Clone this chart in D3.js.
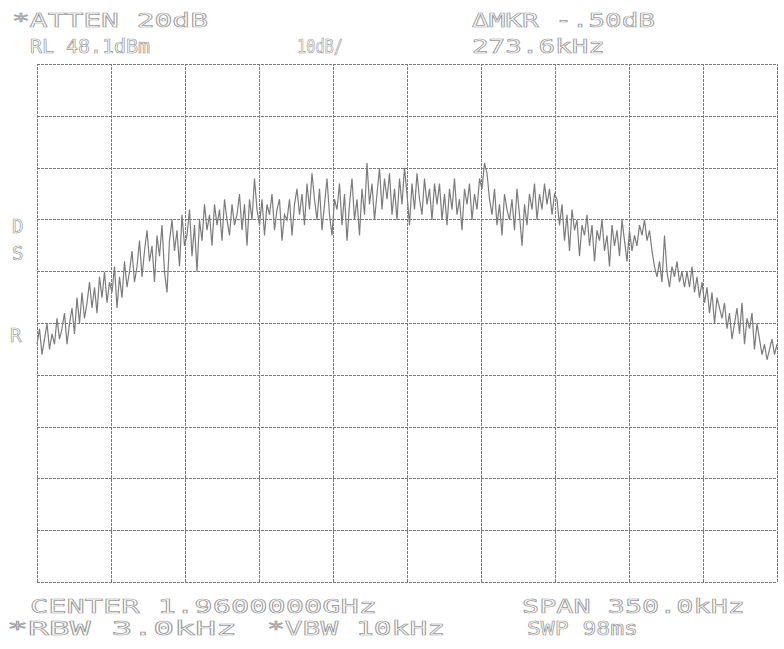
<!DOCTYPE html>
<html>
<head>
<meta charset="utf-8">
<script src="https://cdn.jsdelivr.net/npm/d3@7"></script>
<style>
    body { margin: 0; background: #fff; }
    .grid line { stroke: #7a7a7a; stroke-dasharray: 3,1; shape-rendering: crispEdges; }
    .grid .domain { display: none; }
    .lbl { font-family: "DejaVu Sans Mono", monospace; font-size: 19px; fill: #fff; stroke: #9a9a9a; stroke-width: 0.7; }
</style>
</head>
<body>
<script>
// trace level in dBm, one value per sweep point (left to right)
var levels = [
    -6, -3, -8, -5, -2, -7, -4, -6, -1, -5, -3, 0, -6, -2, 1, -4, 3, -2, 4, -1,
    2, 6, 1, 5, 0, 7, 3, 8, 2, 6, 4, 9, 1, 7, 3, 10, 5, 8, 12, 6,
    9, 14, 7, 12, 16, 10, 13, 6, 15, 11, 17, 8, 4, 14, 18, 12, 16, 9, 19, 13,
    15, 20, 11, 17, 8, 18, 14, 21, 16, 19, 13, 21, 17, 20, 14, 22, 18, 15, 21, 17,
    19, 23, 16, 21, 13, 22, 18, 26, 20, 17, 22, 15, 21, 19, 23, 16, 20, 22, 14, 19,
    18, 22, 15, 21, 24, 19, 23, 17, 25, 20, 27, 22, 18, 24, 16, 21, 26, 19, 15, 22,
    20, 25, 17, 23, 14, 21, 26, 18, 22, 15, 24, 19, 29, 21, 25, 18, 23, 28, 20, 26,
    22, 27, 19, 24, 18, 26, 21, 28, 23, 17, 25, 20, 27, 22, 19, 26, 21, 24, 18, 25,
    21, 25, 18, 23, 17, 24, 20, 26, 19, 22, 16, 24, 21, 25, 18, 23, 20, 26, 24, 29,
    27, 22, 19, 24, 17, 21, 15, 23, 20, 18, 22, 16, 24, 19, 13, 21, 17, 23, 20, 25,
    18, 23, 20, 25, 21, 24, 19, 23, 22, 17, 21, 14, 19, 12, 20, 16, 18, 11, 17, 15,
    19, 13, 17, 10, 16, 14, 18, 12, 15, 9, 17, 13, 16, 11, 18, 14, 10, 16, 12, 15,
    13, 17, 15, 18, 14, 16, 12, 9, 7, 10, 6, 15, 8, 5, 9, 7, 10, 6, 8, 5,
    8, 5, 9, 4, 7, 3, 6, 2, 5, 0, 4, -2, 3, 1, -1, 2, -3, 0, -5, -2,
    1, -4, 2, -6, -1, -3, 0, -7, -2, -5, -8, -6, -9, -7, -5, -8, -6
];

// frequency offset from centre, kHz
var freqTicks = [-175, -140, -105, -70, -35, 0, 35, 70, 105, 140, 175];
var levelTicks = [48.1, 38.1, 28.1, 18.1, 8.1, -1.9, -11.9, -21.9, -31.9, -41.9, -51.9];

var topLabels = ["*ATTEN 20dB", "\u0394MKR -.50dB", "RL 48.1dBm", "10dB/", "273.6kHz"];
var bottomLabels = ["CENTER 1.9600000GHz", "SPAN 350.0kHz", "*RBW 3.0kHz", "*VBW 10kHz", "SWP 98ms"];
var sideLabels = ["D", "S", "R"];

(function () {

    var w = 784;
    var h = 649;
    var left = 37, right = 777, top = 64, bottom = 582;

    var svg = d3.select("body").append("svg")
        .attr("width", w)
        .attr("height", h);

    var x = d3.scaleLinear().domain([-175, 175]).range([left, right]);
    var y = d3.scaleLinear().domain([-51.9, 48.1]).range([bottom, top]);

    // graticule
    svg.append("g")
        .attr("class", "grid")
        .attr("transform", "translate(0," + bottom + ")")
        .call(d3.axisBottom(x).tickValues(freqTicks).tickSize(-(bottom - top)).tickFormat(""));

    svg.append("g")
        .attr("class", "grid")
        .attr("transform", "translate(" + left + ",0)")
        .call(d3.axisLeft(y).tickValues(levelTicks).tickSize(-(right - left)).tickFormat(""));

    var step = 350 / (levels.length - 1);
    var line = d3.line()
        .x(function (d, i) { return x(-175 + i * step); })
        .y(function (d) { return y(d); });

    svg.append("path")
        .datum(levels)
        .attr("d", line)
        .attr("fill", "none")
        .attr("stroke", "#7c7c7c")
        .attr("stroke-width", 1.2);

    // screen annotations: [x, baseline, length]
    var topPos = [[12, 27, 196], [472, 27, 183], [30, 53, 120], [297, 53, 46], [472, 53, 133]];
    var bottomPos = [[30, 613, 347], [522, 613, 223], [7, 635, 230], [267, 635, 178], [527, 635, 111]];
    var sidePos = [[12, 233], [12, 260], [10, 342]];

    function addText(labels, pos) {
        labels.forEach(function (t, i) {
            var el = svg.append("text")
                .attr("class", "lbl")
                .attr("x", pos[i][0])
                .attr("y", pos[i][1])
                .text(t);
            if (pos[i][2]) {
                el.attr("textLength", pos[i][2]).attr("lengthAdjust", "spacingAndGlyphs");
            }
        });
    }

    addText(topLabels, topPos);
    addText(bottomLabels, bottomPos);
    addText(sideLabels, sidePos);
})();
</script>
</body>
</html>
